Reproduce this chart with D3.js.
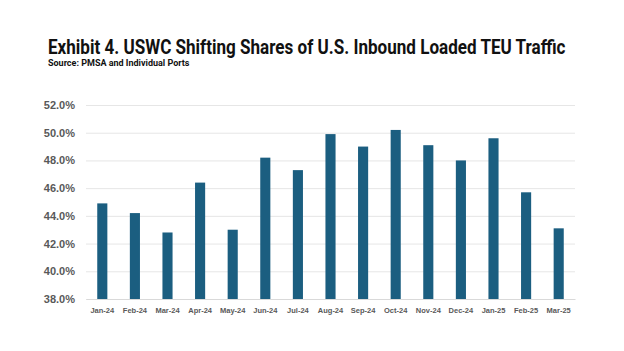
<!DOCTYPE html>
<html lang="en">
<head>
  <meta charset="UTF-8">
  <title>USWC shares</title>
  <style>
    body { margin: 0; background: #fff; }
  </style>
</head>
<body>
  <svg id="svg" width="624" height="351"></svg>

  <script src="https://d3js.org/d3.v7.min.js"></script>
  <script>
    // data
    const months = ['Jan-24', 'Feb-24', 'Mar-24', 'Apr-24', 'May-24', 'Jun-24', 'Jul-24', 'Aug-24',
      'Sep-24', 'Oct-24', 'Nov-24', 'Dec-24', 'Jan-25', 'Feb-25', 'Mar-25']
    const shares = [44.9, 44.2, 42.8, 46.4, 43.0, 48.2, 47.3, 49.9, 49.0, 50.2, 49.1, 48.0, 49.6, 45.7, 43.1]
    const yTicks = [38, 40, 42, 44, 46, 48, 50, 52]

    const svg = d3.select('#svg')

    const xScale = d3.scaleBand()
      .domain(months)
      .range([86, 575])
      .paddingInner(0.69)
      .paddingOuter(0.345)

    const yScale = d3.scaleLinear()
      .domain([38, 52])
      .range([299, 105])

    // squeeze a text horizontally so it spans the given width (condensed look)
    function fitWidth(sel, x, y, width) {
      const w = sel.node().getComputedTextLength()
      const k = Math.min(1, width / w)
      sel.attr('x', 0).attr('y', 0)
        .attr('transform', `translate(${x},${y}) scale(${k},1)`)
    }

    // title
    const title = svg.append('text')
      .style('font-family', 'Roboto')
      .style('font-weight', 700)
      .style('font-size', '20px')
      .attr('fill', '#111')
      .text('Exhibit 4. USWC Shifting Shares of U.S. Inbound Loaded TEU Traffic')
    fitWidth(title, 48, 53.5, 518)

    const source = svg.append('text')
      .style('font-family', 'Roboto')
      .style('font-weight', 700)
      .style('font-size', '9px')
      .attr('fill', '#111')
      .text('Source: PMSA and Individual Ports')
    fitWidth(source, 48, 65.5, 158)

    // y axis with gridlines
    const yAxis = svg.append('g')
      .attr('transform', 'translate(86,0)')
      .call(d3.axisLeft(yScale)
        .tickValues(yTicks)
        .tickSize(-489)
        .tickPadding(11)
        .tickFormat(d => d.toFixed(1) + '%'))

    yAxis.select('.domain').remove()
    yAxis.selectAll('line').attr('stroke', '#e6e6e6').attr('stroke-width', 1)
    yAxis.selectAll('text')
      .attr('fill', '#595959')
      .style('font-family', 'Liberation Sans, Arial')
      .style('font-weight', 700)
      .style('font-size', '11px')

    // bars
    svg.append('g')
      .selectAll('rect')
      .data(shares)
      .enter()
      .append('rect')
      .attr('x', (d, i) => xScale(months[i]))
      .attr('y', d => yScale(d))
      .attr('width', xScale.bandwidth())
      .attr('height', d => yScale(38) - yScale(d))
      .attr('fill', '#1b5e80')

    // x axis labels
    const xAxis = svg.append('g')
      .attr('transform', 'translate(0,299)')
      .call(d3.axisBottom(xScale).tickSize(0).tickPadding(9))

    xAxis.select('.domain').attr('stroke', '#d9d9d9')
    xAxis.selectAll('text')
      .attr('fill', '#595959')
      .style('font-family', 'Liberation Sans, Arial')
      .style('font-weight', 700)
      .style('font-size', '7.5px')
  </script>
</body>
</html>
